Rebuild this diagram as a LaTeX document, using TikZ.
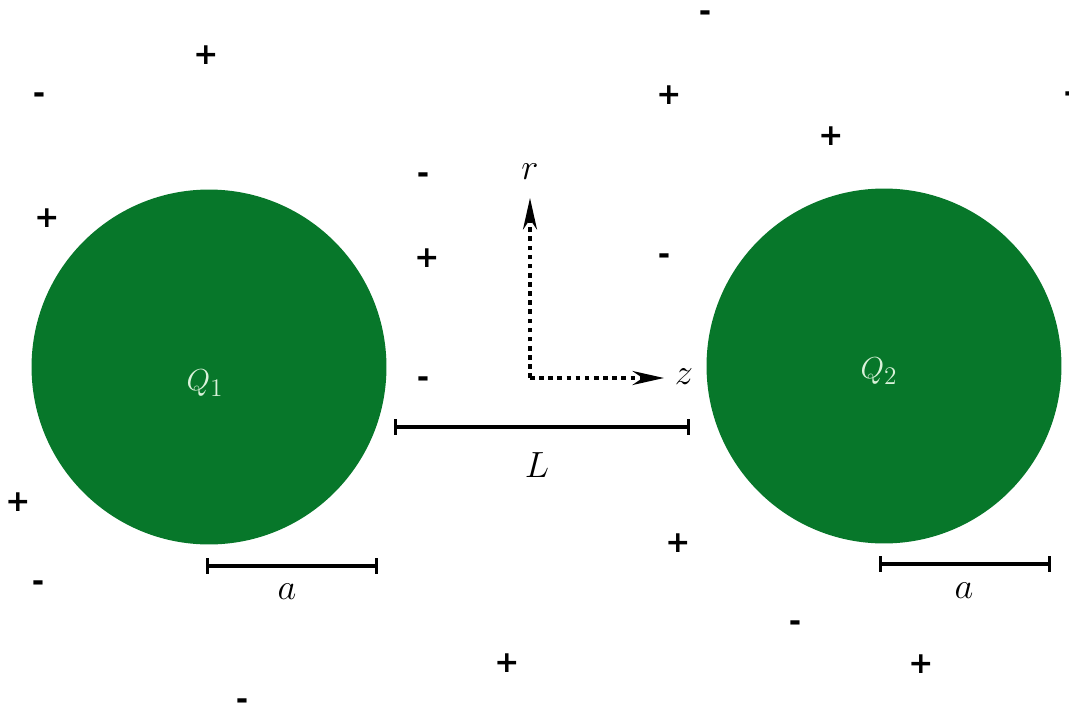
\documentclass[tikz,border=0pt]{standalone}
\usepackage{fontspec}
\newfontfamily\signfont{DejaVu Sans}
\usepackage{xcolor}
\usepackage{tikz}
\usetikzlibrary{arrows.meta, positioning}

\definecolor{ballgreen}{RGB}{7,119,42}
\definecolor{balltext}{RGB}{218,242,218}

\begin{document}
\begin{tikzpicture}[x=0.02cm, y=-0.02cm, font=\fontsize{20}{24}\selectfont,
  ball/.style={circle, fill=ballgreen, minimum size=7.1cm, inner sep=0pt},
  qlab/.style={text=balltext, font=\fontsize{19}{23}\selectfont},
  chg/.style={font=\signfont\bfseries\fontsize{17}{20}\selectfont, inner sep=0pt},
  axis/.style={dash pattern=on 2.6pt off 2.6pt, line width=2pt,
    -{Stealth[length=18pt, width=8pt]}},
  dimbar/.style={line width=2.8pt, {Bar[width=9pt, line width=1.6pt]}-{Bar[width=9pt, line width=1.6pt]}}]

\useasboundingbox (0,0) rectangle (1069,714);

% -- Spheres ----------------------------------------------------------------
\node[ball] (ball1) at (209,367) {};
\node[ball] (ball2) at (884,366) {};
\node[qlab] (q1) at (205,383) {$Q_1$};
\node[qlab] (q2) at (879,371) {$Q_2$};

% -- Axes -------------------------------------------------------------------
\coordinate (orig) at (530,378);
\coordinate (rtip) at (530,198);
\coordinate (ztip) at (664,378);
\draw[axis] (orig) -- (rtip);
\draw[axis] (orig) -- (ztip);
\node (rlab) at (530,172) {$r$};
\node (zlab) at (684,377) {$z$};

% -- Lengths ----------------------------------------------------------------
\coordinate (Ll) at (394,427);
\coordinate (Lr) at (690,427);
\draw[dimbar] (Ll) -- (Lr);
\node (Llab) at (537,465) {$L$};

\coordinate (a1l) at (206,566);
\coordinate (a1r) at (378,566);
\draw[dimbar] (a1l) -- (a1r);
\node (alab1) at (287,592) {$a$};

\coordinate (a2l) at (879,564);
\coordinate (a2r) at (1051,564);
\draw[dimbar] (a2l) -- (a2r);
\node (alab2) at (964,591) {$a$};

% -- Charges ----------------------------------------------------------------
\foreach \x/\y/\s [count=\i] in {206/55/+, 39/98/-, 47/218/+, 705/16/-, 669/95/+,
    831/136/+, 1070/97/-, 423/178/-, 427/258/+, 664/259/-, 423/382/-,
    18/502/+, 38/586/-, 678/543/+, 795/626/-, 507/663/+, 921/664/+, 242/704/-}
  \node[chg] (c\i) at (\x,\y) {\s};

\end{tikzpicture}
\end{document}
